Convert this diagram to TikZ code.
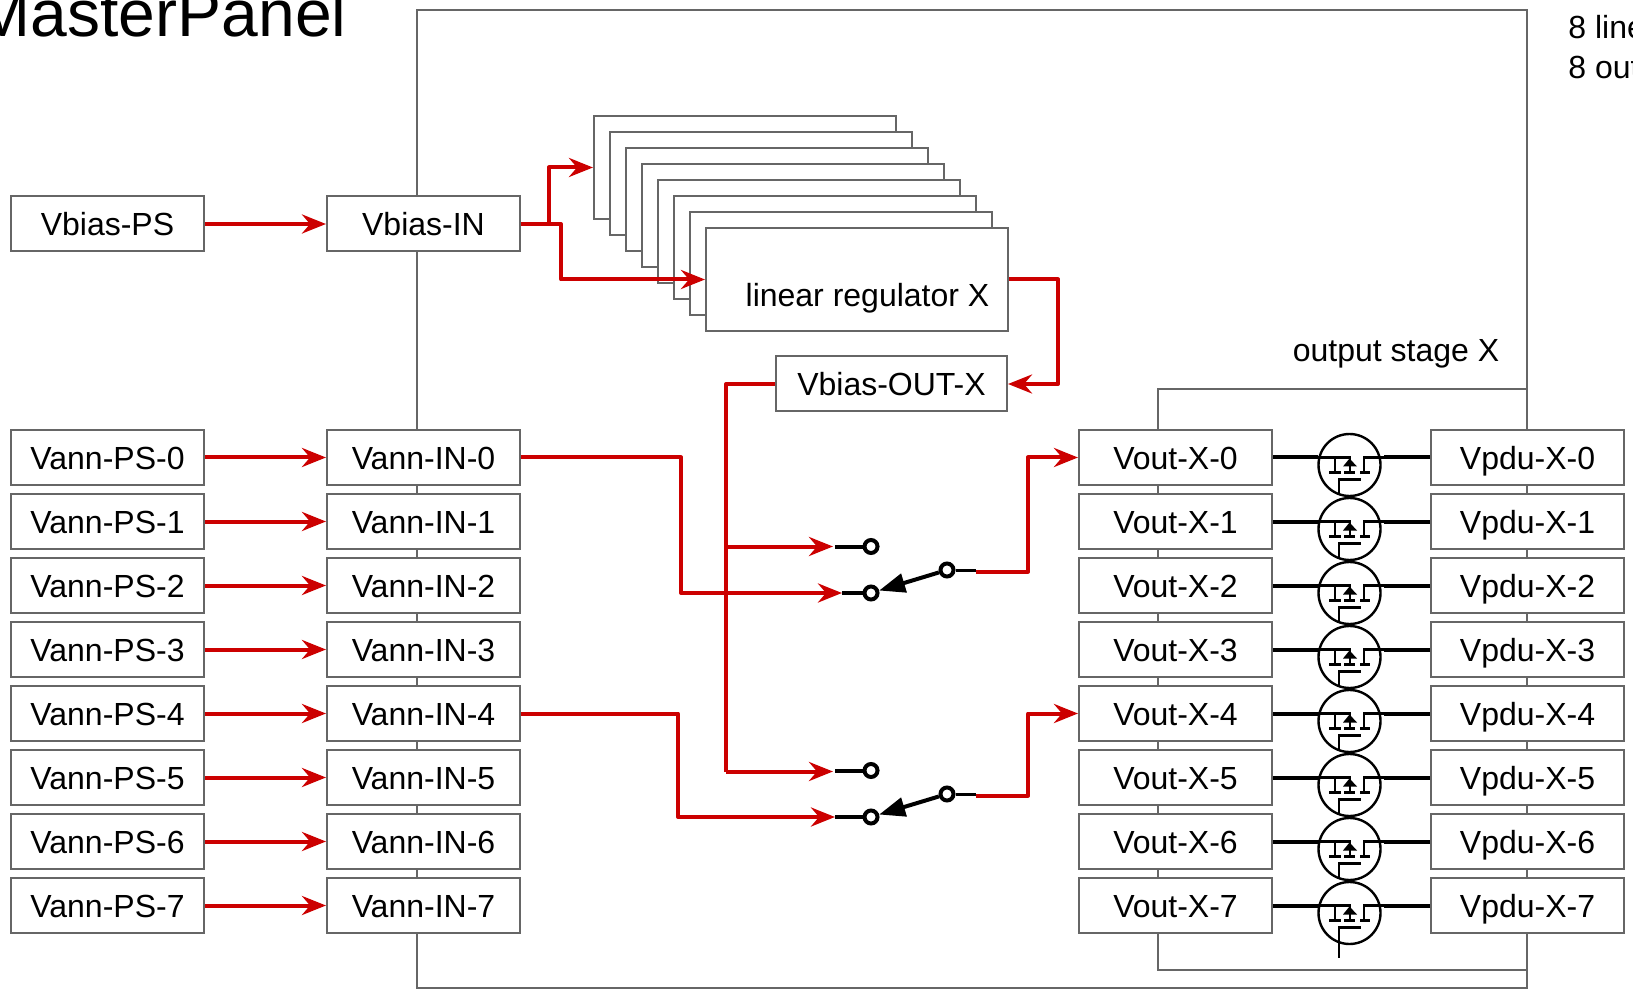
\documentclass[tikz,border=0pt]{standalone}
\usepackage{fontspec}
\setmainfont{Liberation Sans}
\usetikzlibrary{arrows.meta}
\definecolor{boxgray}{HTML}{666666}
\definecolor{wirered}{HTML}{CC0000}
\begin{document}
\begin{tikzpicture}[x=0.5pt, y=-0.5pt,
    b/.style={draw=boxgray, fill=white, line width=1pt, minimum width=96.5pt, minimum height=27.5pt, inner sep=0pt, text height=12pt, text depth=0pt, font=\fontsize{16}{19}\selectfont},
    frame/.style={draw=boxgray, line width=1pt},
    reg/.style={draw=boxgray, fill=white, line width=1pt, minimum width=151pt, minimum height=51.5pt, inner sep=0pt},
    txt/.style={inner sep=0pt, font=\fontsize{16}{19}\selectfont},
    redw/.style={draw=wirered, line width=2pt, line join=round, -{Stealth[length=12pt, width=9.5pt, inset=4pt]}},
    redp/.style={draw=wirered, line width=2pt, line join=round},
    blk/.style={draw=black, line width=2pt},
    thn/.style={draw=black, line width=1.2pt},
    term/.style={circle, draw=black, fill=white, line width=2pt, minimum size=6.5pt, inner sep=0pt}]
  \useasboundingbox (0,0) rectangle (1633,989);
  \clip (0,0) rectangle (1633,989);
  % frames
  \node[inner sep=0pt, anchor=base west, font=\fontsize{33}{38}\selectfont] (title) at (-24.5,36.5) {MasterPanel};
  \draw[frame] (417,10) rectangle (1527,988);
  \draw[frame] (1158,389.5) rectangle (1527,970);
  \node[txt, anchor=base west] (note1) at (1568,39) {8 line};
  \node[txt, anchor=base west] (note2) at (1568,78.5) {8 out};
  \node[txt] (stage) at (1396,354) {output stage X};
  % regulators
  \foreach \i in {0,...,7}
    \node[reg] (reg\i) at ({745+16*\i},{167.5+16*\i}) {};
  \node[txt] (reglabel) at (867.5,298) {linear regulator X};
  % bias
  \node[b] (vbiasps) at (107.5,224) {Vbias-PS};
  \node[b] (vbiasin) at (423.5,224) {Vbias-IN};
  \node[b, minimum width=115.5pt] (vbiasout) at (891.5,384) {Vbias-OUT-X};
  \draw[redw] (vbiasps) -- (vbiasin);
  \draw[redw] (vbiasin.east) -- (549,224) -- (549,167.5) -- (reg0.west);
  \draw[redw] (vbiasin.east) -- (561,224) -- (561,279.5) -- (reg7.west);
  \draw[redw] (reg7.east) -- (1058,279.5) -- (1058,384) -- (vbiasout.east);
  % rows
  \foreach \i in {0,...,7} {
    \pgfmathsetmacro{\ry}{457.5+64*\i}
    \node[b] (vannps\i) at (107.5,\ry) {Vann-PS-\i};
    \node[b] (vannin\i) at (423.5,\ry) {Vann-IN-\i};
    \node[b] (voutx\i) at (1175.5,\ry) {Vout-X-\i};
    \node[b] (vpdux\i) at (1527.5,\ry) {Vpdu-X-\i};
    \draw[redw] (vannps\i) -- (vannin\i);
    % mosfet
    \fill[white] (1314,\ry-24) rectangle (1386,\ry+36.5);
    \node[circle, draw=black, line width=1.2pt, minimum size=31pt, inner sep=0pt] (q\i) at (1349.5,\ry+7.5) {};
    \draw[blk] (voutx\i.east) -- (1318,\ry);
    \draw[blk] (vpdux\i.west) -- (1384,\ry);
    \draw[thn] (1318,\ry) -- (1350,\ry) -- (1350,\ry+15) (1344,\ry+15) -- (1355,\ry+15);
    \draw[thn] (1335,\ry) -- (1335,\ry+15) (1329,\ry+15) -- (1341,\ry+15);
    \draw[thn] (1384,\ry) -- (1364,\ry) -- (1364,\ry+15) (1360,\ry+15) -- (1370,\ry+15);
    \fill[black] (1349.5,\ry+1) -- (1357,\ry+9) -- (1343,\ry+9) -- cycle;
    \draw[thn] (1339,\ry+36.5) -- (1339,\ry+22) -- (1361,\ry+22);
  }
  \draw[thn] (1339,927) -- (1339,958);
  % switches
  \node[term] (swa0) at (871,546.5) {};
  \node[term] (swb0) at (871,593) {};
  \node[term] (swc0) at (947,570) {};
  \node[term] (swa4) at (871,770.5) {};
  \node[term] (swb4) at (871,817) {};
  \node[term] (swc4) at (947,794) {};
  \coordinate (ina0) at (833,546.5);
  \coordinate (ina4) at (833,771.5);
  \coordinate (inb0) at (842,593);
  \coordinate (inb4) at (835,817);
  \coordinate (outc0) at (976,570);
  \coordinate (outc4) at (976,794);
  \coordinate (bend0) at (1028,571.5);
  \coordinate (bend4) at (1028,795.5);
  \foreach \s in {0,4} {
    \draw[blk] (835,0 |- swa\s) -- (swa\s);
    \draw[blk] (inb\s) -- (swb\s);
    \draw[blk, -{Triangle[length=13pt, width=9.5pt]}] (swc\s) -- (swb\s);
    \draw[thn, line width=1.5pt] (swc\s) -- (outc\s);
    \draw[redw] (outc\s |- bend\s) -- (bend\s) -- (bend\s |- voutx\s.west) -- (voutx\s.west);
  }
  \draw[redw] (vannin0.east) -- (681,457.5) -- (681,593) -- (inb0);
  \draw[redw] (vannin4.east) -- (678,713.5) -- (678,817) -- (inb4);
  \draw[redp] (vbiasout.west) -- (726,384) -- (726,771.5);
  \draw[redw] (726,546.5) -- (ina0);
  \draw[redw] (726,771.5) -- (ina4);
\end{tikzpicture}
\end{document}
